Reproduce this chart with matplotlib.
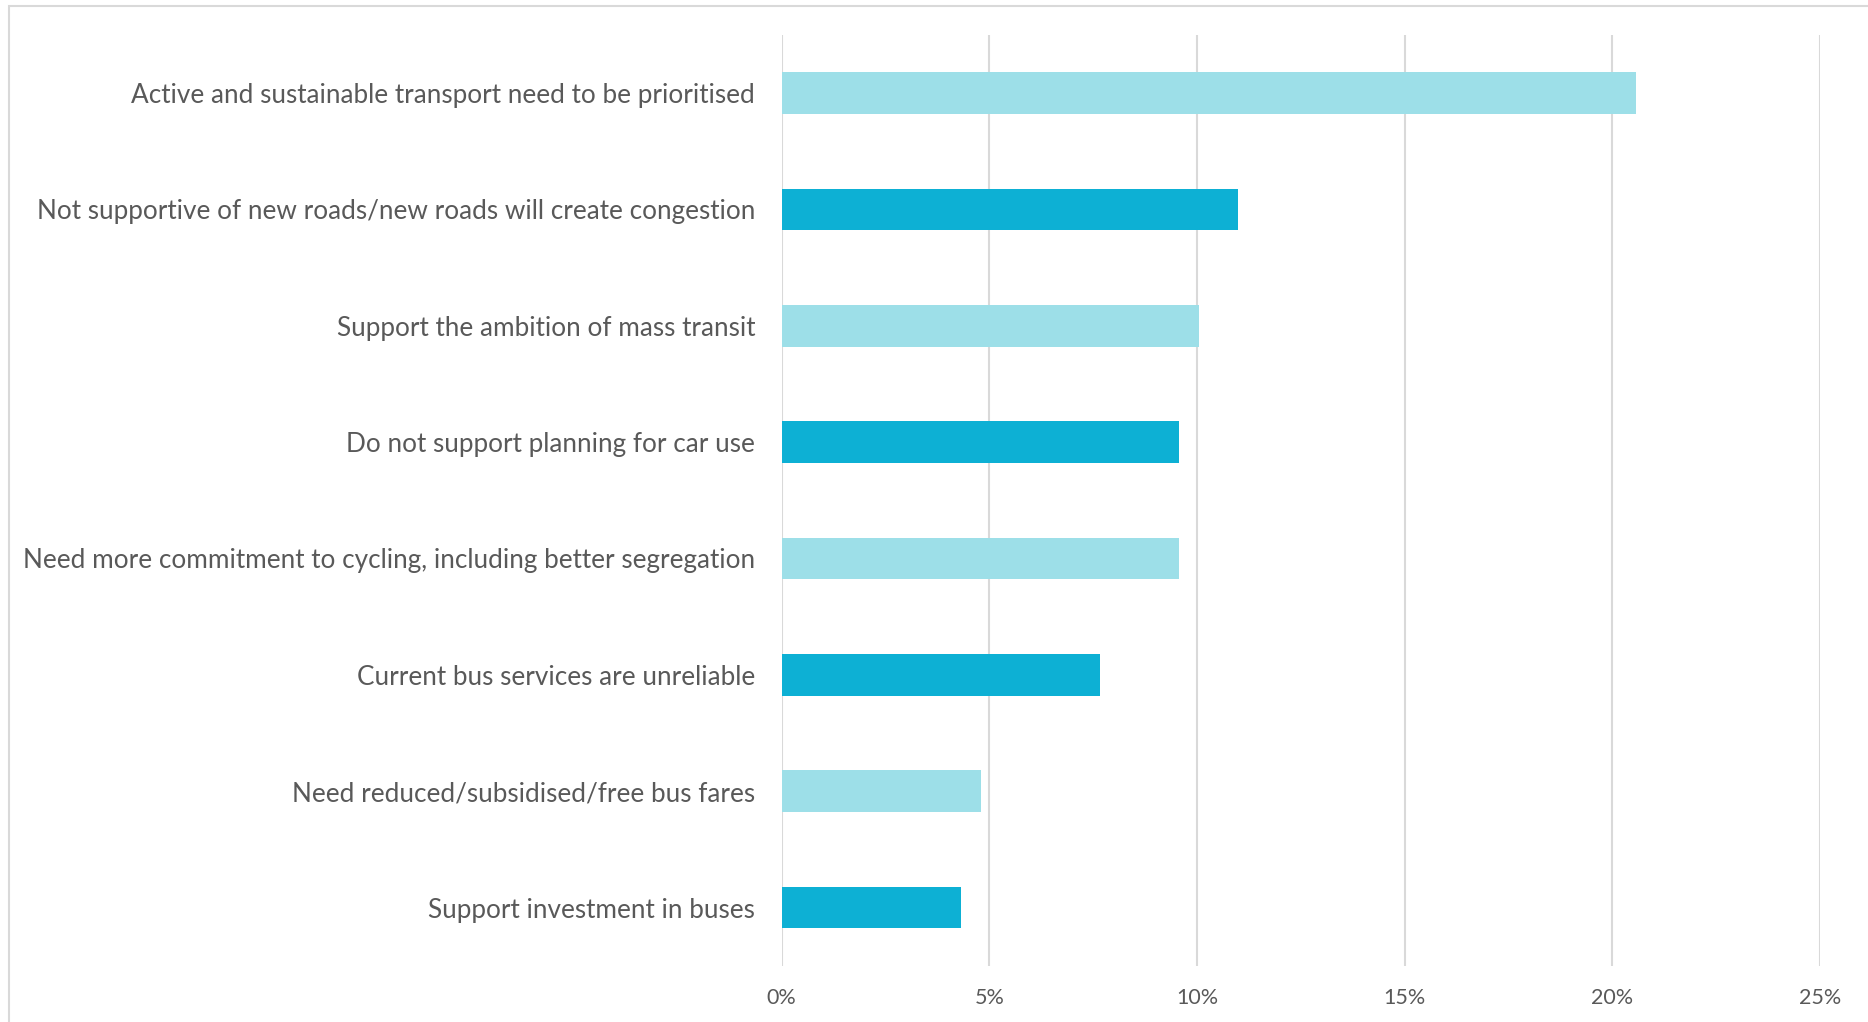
import matplotlib.pyplot as plt
from matplotlib.patches import Rectangle
from matplotlib.ticker import FuncFormatter

# categories top to bottom, values in percent
categorias = [
    'Active and sustainable transport need to be prioritised',
    'Not supportive of new roads/new roads will create congestion',
    'Support the ambition of mass transit',
    'Do not support planning for car use',
    'Need more commitment to cycling, including better segregation',
    'Current bus services are unreliable',
    'Need reduced/subsidised/free bus fares',
    'Support investment in buses',
]
valores = [20.57, 11.0, 10.05, 9.57, 9.58, 7.66, 4.79, 4.31]
cores = ['#9DDFE8', '#0DB0D4'] * 4
ticks_x = [0, 5, 10, 15, 20, 25]

plt.rcParams['font.family'] = ['Lato', 'DejaVu Sans']

fig = plt.figure(figsize=(18.68, 10.22), dpi=100)
ax = fig.add_axes([0.4184, 0.0551, 0.5559, 0.9108])

pos = list(range(len(categorias)))[::-1]
ax.barh(pos, valores, height=0.357, color=cores, zorder=3)

ax.set_xlim(0, 25)
ax.set_ylim(-0.5, len(categorias) - 0.5)
ax.set_xticks(ticks_x)
ax.xaxis.set_major_formatter(FuncFormatter(lambda v, p: f'{v:.0f}%'))
ax.set_yticks(pos)
ax.set_yticklabels(categorias)

ax.grid(axis='x', color='#d9d9d9', linewidth=1.5, zorder=0)
for s in ax.spines.values():
    s.set_visible(False)
ax.tick_params(axis='y', length=0, pad=19, labelsize=18.8, labelcolor='#595959')
ax.tick_params(axis='x', length=0, pad=16, labelsize=15.5, labelcolor='#595959')

# outer chart border
fig.patches.append(Rectangle((9 / 1868, -0.1), 1.2, 1 - 6 / 1022 + 0.1,
                             transform=fig.transFigure, fill=False,
                             edgecolor='#d9d9d9', linewidth=1.5))

fig.savefig('out.png', dpi=100)
